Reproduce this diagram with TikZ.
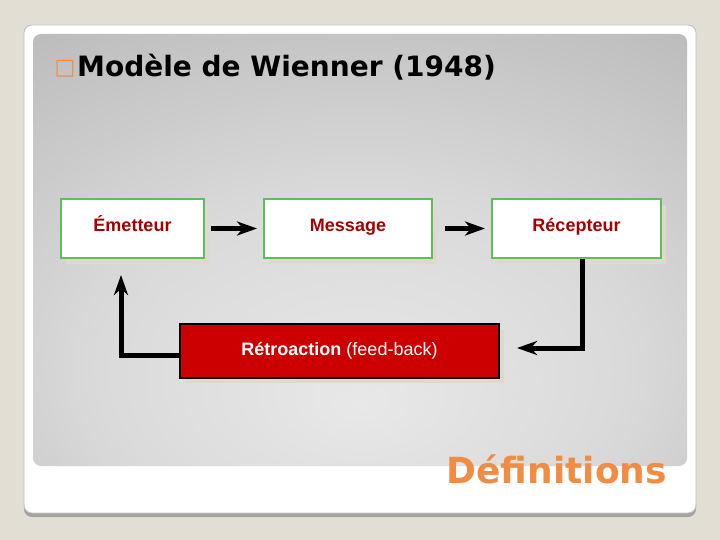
\documentclass[tikz,border=0pt]{standalone}
\usepackage{fontspec}
\setmainfont{Liberation Sans}
\newfontfamily\titrefont{DejaVu Sans}
\usepackage{tikz}
\usetikzlibrary{arrows.meta, positioning, shadows}
\usepackage{xcolor}
\definecolor{fond}{HTML}{E3DED4}
\definecolor{bordgris}{HTML}{A3A39D}
\definecolor{vert}{HTML}{5CBF5C}
\definecolor{rouge}{HTML}{CC0000}
\definecolor{rougefonce}{HTML}{A80000}
\definecolor{ombre}{HTML}{DEDACB}
\definecolor{orangedef}{HTML}{F28C42}
\definecolor{gris0}{HTML}{E8E8E8}
\definecolor{gris1}{HTML}{DADADA}
\definecolor{gris2}{HTML}{B5B5B5}
\definecolor{gris3}{HTML}{A0A0A0}
\pgfdeclareradialshading{fondgris}{\pgfpoint{0bp}{-18bp}}{color(0bp)=(gris0); color(20bp)=(gris1); color(48bp)=(gris2); color(68bp)=(gris3); color(90bp)=(gris3)}

\begin{document}
\begin{tikzpicture}[x=1pt, y=-1pt,
    bloc/.style={draw=vert, line width=2pt, fill=white, inner sep=0pt, minimum height=59pt,
        text=rougefonce, font=\bfseries\fontsize{18}{20}\selectfont, text height=13pt, text depth=8pt,
        drop shadow={shadow xshift=5pt, shadow yshift=-6pt, fill=ombre, opacity=1}},
    fleche/.style={line width=5pt, -{Stealth[length=20pt, width=14pt, inset=6pt]}}]
    % 背景
    \fill[fond] (0, 0) rectangle (720, 540);
    \fill[bordgris, rounded corners=8pt] (24, 29) rectangle (696, 517);
    \filldraw[fill=white, draw=gray!50, line width=0.8pt, rounded corners=8pt] (24, 25) rectangle (696, 513);
    \shade[shading=fondgris, rounded corners=8pt] (33, 34) rectangle (687, 466);
    
    % 标题
    \node[text=orangedef, font=\titrefont\fontsize{22}{24}\selectfont, inner sep=0pt] (puce) at (65, 68.5) {□};
    \node[anchor=base west, inner sep=0pt, font=\titrefont\bfseries\fontsize{28}{30}\selectfont] (titre) at (77, 77) {Modèle de Wienner (1948)};
    
    % 方框
    \node[bloc, minimum width=143pt] (emetteur) at (132.5, 228.5) {Émetteur};
    \node[bloc, minimum width=168pt] (message) at (348, 228.5) {Message};
    \node[bloc, minimum width=169pt] (recepteur) at (576.5, 228.5) {Récepteur};
    \node[draw=black, line width=2pt, fill=rouge, text=white, minimum width=319pt, minimum height=54pt,
        font=\fontsize{18}{20}\selectfont,
        drop shadow={shadow xshift=5pt, shadow yshift=-5pt, fill=ombre, opacity=1}] (retroaction) at (339.5, 351)
        {\textbf{Rétroaction} (feed-back)};
    
    % 箭头
    \coordinate (retour) at (517, 348);
    \coordinate (boucle) at (121, 275);
    \draw[fleche, shorten <=6pt, shorten >=6pt] (emetteur) -- (message);
    \draw[fleche, shorten <=12pt, shorten >=6pt] (message) -- (recepteur);
    \draw[fleche] ([xshift=5.5pt]recepteur.south) |- (retour);
    \draw[fleche] ([yshift=-4pt]retroaction.west) -| (boucle);
    
    % 标注
    \node[anchor=base east, inner sep=0pt, text=orangedef, font=\titrefont\bfseries\fontsize{36}{40}\selectfont] (definitions) at (667, 483) {Définitions};
\end{tikzpicture}
\end{document}
